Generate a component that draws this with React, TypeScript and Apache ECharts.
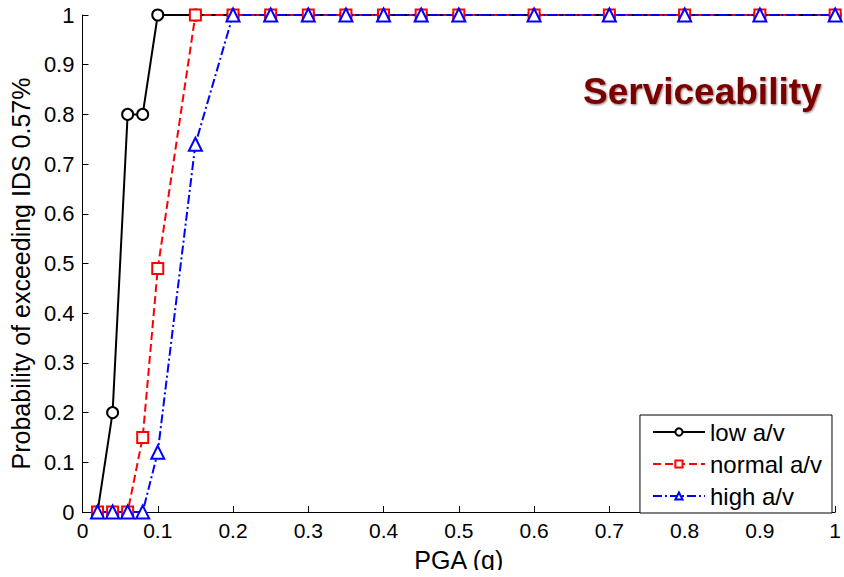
import React, { useEffect, useRef } from "react";
import * as echarts from "echarts";

const pga = [0.02, 0.04, 0.06, 0.08, 0.1, 0.15, 0.2, 0.25, 0.3, 0.35, 0.4, 0.45, 0.5, 0.6, 0.7, 0.8, 0.9, 1.0];
const lowAV = [0, 0.2, 0.8, 0.8, 1, 1, 1, 1, 1, 1, 1, 1, 1, 1, 1, 1, 1, 1];
const normalAV = [0, 0, 0, 0.15, 0.49, 1, 1, 1, 1, 1, 1, 1, 1, 1, 1, 1, 1, 1];
const highAV = [0, 0, 0, 0, 0.12, 0.74, 1, 1, 1, 1, 1, 1, 1, 1, 1, 1, 1, 1];
const seriesNames = ["low a/v", "normal a/v", "high a/v"];

const FONT = "Liberation Sans, Arial, sans-serif";

export default function App() {
  const ref = useRef<HTMLDivElement>(null);
  useEffect(() => {
    if (!ref.current) return;
    const chart = echarts.init(ref.current, null, { renderer: "svg" });
    const pairs = (ys: number[]) => pga.map((x, i) => [x, ys[i]]);
    const mk = (name: string, ys: number[], color: string, symbol: string, type: any, size: number) => ({
      name,
      type: "line",
      data: pairs(ys),
      symbol,
      symbolSize: size,
      showAllSymbol: true,
      lineStyle: { color, width: 2, type },
      itemStyle: { color: "#fff", borderColor: color, borderWidth: 2 },
      emphasis: { disabled: true },
    });
    chart.setOption({
      animation: false,
      backgroundColor: "#fff",
      grid: { left: 81, right: 6, top: 15, bottom: 57, containLabel: false },
      xAxis: {
        type: "value",
        min: 0,
        max: 1,
        interval: 0.1,
        name: "PGA (g)",
        nameLocation: "middle",
        nameGap: 35,
        nameTextStyle: { fontFamily: FONT, fontSize: 25, color: "#000" },
        axisLine: { show: true, lineStyle: { color: "#000", width: 1 } },
        axisTick: { show: true, inside: true, length: 6, lineStyle: { color: "#000" } },
        axisLabel: { fontFamily: FONT, fontSize: 21, color: "#000", margin: 8, formatter: (v: number) => String(+v.toFixed(1)) },
        splitLine: { show: false },
      },
      yAxis: {
        type: "value",
        min: 0,
        max: 1,
        interval: 0.1,
        name: "Probability of exceeding IDS 0.57%",
        nameLocation: "middle",
        nameGap: 47,
        nameTextStyle: { fontFamily: FONT, fontSize: 25, color: "#000", padding: [0, 20, 0, 0] },
        axisLine: { show: true, lineStyle: { color: "#000", width: 1 } },
        axisTick: { show: true, inside: true, length: 6, lineStyle: { color: "#000" } },
        axisLabel: { fontFamily: FONT, fontSize: 22, color: "#000", margin: 8, formatter: (v: number) => String(+v.toFixed(1)) },
        splitLine: { show: false },
      },
      legend: {
        right: 12,
        bottom: 64,
        orient: "vertical",
        itemWidth: 52,
        itemHeight: 9,
        itemGap: 8,
        padding: [5, 10, 5, 12],
        borderColor: "#000",
        borderWidth: 1,
        borderRadius: 0,
        backgroundColor: "#fff",
        textStyle: { fontFamily: FONT, fontSize: 24, color: "#000" },
        data: seriesNames,
      },
      graphic: [
        {
          type: "text",
          x: 583,
          y: 91,
          style: {
            text: "Serviceability",
            fontFamily: FONT,
            fontSize: 37,
            fontWeight: "bold",
            fill: "#7a0000",
            textVerticalAlign: "middle",
            verticalAlign: "middle",
            textShadowColor: "rgba(40,0,0,0.55)",
            textShadowBlur: 2,
            textShadowOffsetX: 1,
            textShadowOffsetY: 1,
          },
        },
        {
          type: "rect",
          z: 1000,
          shape: { x: 0, y: 570, width: 844, height: 7 },
          style: { fill: "#fff" },
        },
      ],
      series: [
        mk(seriesNames[0], lowAV, "#000000", "circle", "solid", 11),
        mk(seriesNames[1], normalAV, "#ff0000", "rect", [8, 4], 11),
        mk(seriesNames[2], highAV, "#0000ff", "triangle", [9, 3, 2, 3], 13),
      ],
    });
    return () => chart.dispose();
  }, []);
  return <div ref={ref} style={{ width: 844, height: 577, position: "absolute", left: 0, top: 0 }} />;
}
